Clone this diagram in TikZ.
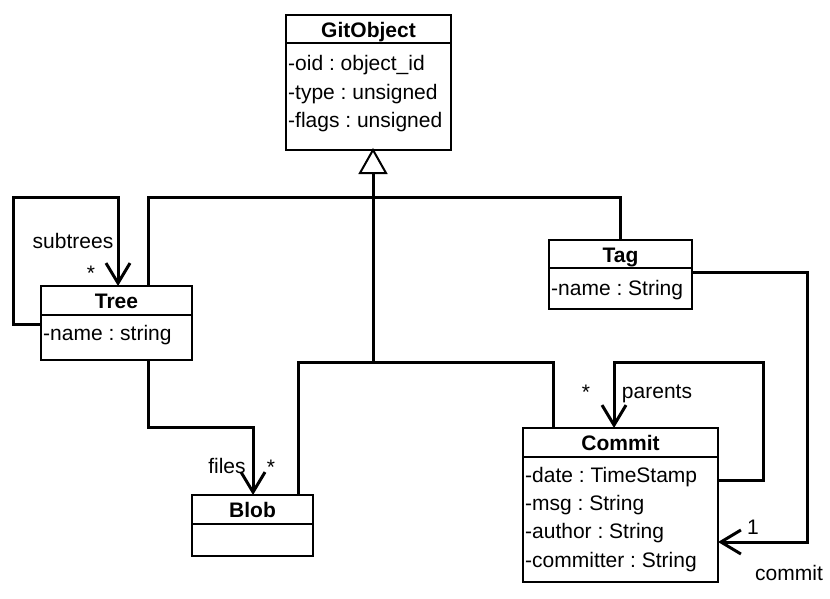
\documentclass[tikz,border=0pt]{standalone}
\usepackage{fontspec}
\setmainfont{Liberation Sans}
\usetikzlibrary{arrows.meta}
\begin{document}
\begin{tikzpicture}[x=1pt,y=-1pt,
  box/.style={draw, line width=2pt, inner sep=0pt, outer sep=0pt, anchor=north west},
  sepline/.style={line width=2pt},
  ttl/.style={font=\fontsize{21}{25}\selectfont\frenchspacing\bfseries, anchor=base, inner sep=0pt},
  attr/.style={font=\fontsize{21}{25}\selectfont\frenchspacing, anchor=base west, inner sep=0pt},
  lbl/.style={font=\fontsize{21}{25}\selectfont\frenchspacing, anchor=base, inner sep=0pt},
  conn/.style={line width=3pt},
  assoc/.style={conn, -{Straight Barb[length=20pt,width=24pt]}},
]
\useasboundingbox (0,0) rectangle (830,599);

% classes
\node[box, minimum width=165pt, minimum height=135pt] (gitobject) at (286,15) {};
\draw[sepline] (286,43) -- (451,43);
\node[ttl] (gitobjectT) at (368.5,38) {GitObject};
\node[attr] (go1) at (288,71) {-oid : object\_id};
\node[attr] (go2) at (288,99.5) {-type : unsigned};
\node[attr] (go3) at (288,128) {-flags : unsigned};

\node[box, minimum width=151pt, minimum height=74pt] (tree) at (41,286) {};
\draw[sepline] (41,315) -- (192,315);
\node[ttl] (treeT) at (116.5,308) {Tree};
\node[attr] (tr1) at (43,340) {-name : string};

\node[box, minimum width=143pt, minimum height=69pt] (tag) at (549,240) {};
\draw[sepline] (549,268) -- (692,268);
\node[ttl] (tagT) at (620.5,262) {Tag};
\node[attr] (tg1) at (551,295) {-name : String};

\node[box, minimum width=195pt, minimum height=154pt] (commit) at (523,428) {};
\draw[sepline] (523,457) -- (718,457);
\node[ttl] (commitT) at (620.5,450) {Commit};
\node[attr] (cm1) at (525,482) {-date : TimeStamp};
\node[attr] (cm2) at (525,510) {-msg : String};
\node[attr] (cm3) at (525,538) {-author : String};
\node[attr] (cm4) at (525,567) {-committer : String};

\node[box, minimum width=121pt, minimum height=61pt] (blob) at (192,495) {};
\draw[sepline] (192,524) -- (313,524);
\node[ttl] (blobT) at (252.5,517) {Blob};

% generalization
\coordinate (hl) at (148,197);
\coordinate (hr) at (620,197);
\coordinate (bl) at (298,362);
\coordinate (br) at (553,362);
\coordinate (gbase) at (373,173);
\coordinate (gmid) at (373,362);
\draw[conn] (tree.north -| hl) -- (hl) -- (hr) -- (tag.north -| hr);
\draw[conn] (blob.north -| bl) -- (bl) -- (br) -- (commit.north -| br);
\draw[conn] (gmid) -- (gbase);
\draw[line width=2pt, fill=white, line join=miter] (gitobject.south -| gbase) -- ++(-13,23) -- ++(26,0) -- cycle;

% subtrees
\coordinate (s1) at (13,324);
\coordinate (s2) at (13,197);
\coordinate (s3) at (118,197);
\draw[assoc] (tree.west |- s1) -- (s1) -- (s2) -- (s3) -- (tree.north -| s3);
\node[lbl] (lsub) at (73,248) {subtrees};
\node[lbl] (lsubm) at (91,280) {*};

% files
\coordinate (f1) at (148,427);
\coordinate (f2) at (253,427);
\draw[assoc] (tree.south -| f1) -- (f1) -- (f2) -- (blob.north -| f2);
\node[lbl] (lfiles) at (227,473) {files};
\node[lbl] (lfilesm) at (271,474) {*};

% parents
\coordinate (p1) at (763,480);
\coordinate (p2) at (763,362);
\coordinate (p3) at (614,362);
\draw[assoc] (commit.east |- p1) -- (p1) -- (p2) -- (p3) -- (commit.north -| p3);
\node[lbl] (lpar) at (657,398) {parents};
\node[lbl] (lparm) at (586,399) {*};

% commit
\coordinate (c1) at (807,272);
\coordinate (c2) at (807,542);
\draw[assoc] (tag.east |- c1) -- (c1) -- (c2) -- (commit.east |- c2);
\node[lbl] (lcom) at (789,580) {commit};
\node[lbl] (lcomm) at (753,534) {1};
\end{tikzpicture}
\end{document}
